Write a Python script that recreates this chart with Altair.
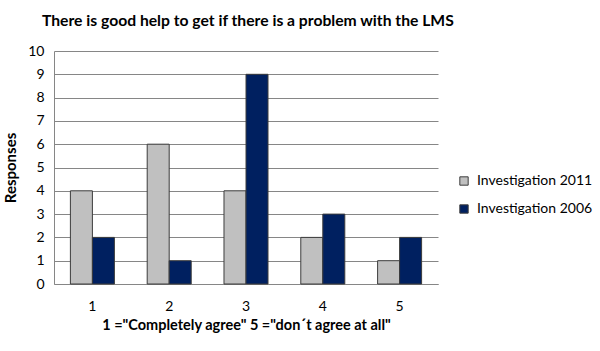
import altair as alt
import pandas as pd

categories = ["1", "2", "3", "4", "5"]
series_names = ["Investigation 2011", "Investigation 2006"]
values_2011 = [4, 6, 4, 2, 1]
values_2006 = [2, 1, 9, 3, 2]
y_ticks = list(range(0, 11))

rows = []
for c, v in zip(categories, values_2011):
    rows.append({"cat": c, "series": series_names[0], "value": v})
for c, v in zip(categories, values_2006):
    rows.append({"cat": c, "series": series_names[1], "value": v})
df = pd.DataFrame(rows)

FONT = "Lato"

chart = alt.Chart(df).mark_bar(stroke="#3c3c3c", strokeWidth=1).encode(
    x=alt.X("cat:N", sort=categories,
            scale=alt.Scale(paddingInner=0, paddingOuter=0),
            axis=alt.Axis(title='1 ="Completely agree" 5 ="don´t agree at all"',
                          labelAngle=0, ticks=False, domainColor="#868686",
                          labelFontSize=14, labelPadding=15, titleFontSize=14.5,
                          titleFontWeight="bold", titlePadding=5,
                          labelColor="#000", titleColor="#000")),
    xOffset=alt.XOffset("series:N", sort=series_names,
                        scale=alt.Scale(paddingInner=0, paddingOuter=0.745)),
    y=alt.Y("value:Q", scale=alt.Scale(domain=[0, 10], nice=False),
            axis=alt.Axis(title="Responses", values=y_ticks, ticks=False,
                          gridColor="#868686", domainColor="#868686",
                          labelFontSize=14, labelPadding=10, titleFontSize=15,
                          titleFontWeight="bold", titlePadding=9,
                          labelColor="#000", titleColor="#000")),
    color=alt.Color("series:N", sort=series_names,
                    scale=alt.Scale(domain=series_names, range=["#c0c0c0", "#002060"]),
                    legend=alt.Legend(title=None, orient="none", legendX=403, legendY=123,
                                      symbolType="square", symbolSize=70,
                                      symbolStrokeColor="#3c3c3c", symbolStrokeWidth=1,
                                      labelFontSize=14, rowPadding=14, labelOffset=6,
                                      labelColor="#000", labelLimit=200)),
).properties(
    width=384,
    height=233,
    title=alt.TitleParams("There is good help to get if there is a problem with the LMS",
                          anchor="start", frame="group", dx=-12, fontSize=15.7,
                          fontWeight="bold", color="#000", offset=14),
    autosize=alt.AutoSizeParams(type="none"),
    padding={"left": 54, "top": 51, "right": 162, "bottom": 67},
).configure(font=FONT).configure_view(stroke=None)

chart.save("out.html", embed_options={"renderer": "svg", "actions": False})
